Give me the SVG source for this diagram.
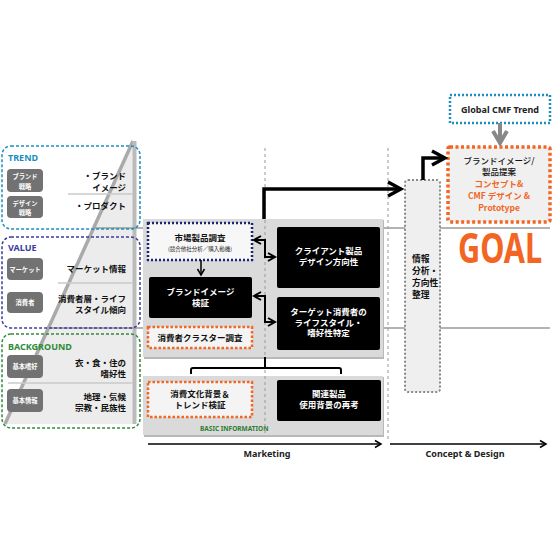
<svg xmlns="http://www.w3.org/2000/svg" width="560" height="560" viewBox="0 0 560 560">
<defs>
<style>
.jp{font-family:"Noto Sans CJK JP","Noto Sans",sans-serif;}
.lt{font-family:"Noto Sans","Liberation Sans","Noto Sans CJK JP",sans-serif;}
.sec{font-size:9px;font-weight:700;}
.pill{fill:#727272;}
.pt{fill:#fff;font-size:6.3px;font-weight:700;text-anchor:middle;}
.rt{fill:#111;font-size:8.5px;font-weight:700;text-anchor:end;}
.blk{fill:#000;}
.wt{fill:#fff;font-size:8.5px;font-weight:700;text-anchor:middle;}
.bt{fill:#111;font-size:8.5px;font-weight:700;text-anchor:middle;}
.at{fill:#111;font-size:8.8px;font-weight:700;}
.gt{font-size:8.5px;text-anchor:middle;}
.panel{fill:#dadada;}
.shadow{fill:#b8b8b8;}
.guide{stroke:#999;stroke-width:1;stroke-dasharray:3 3;fill:none;}
.hline{stroke:#9a9a9a;stroke-width:1.5;}
.sub{stroke:#cacaca;stroke-width:1.5;}
.dotor{fill:#f4f4f4;stroke:#f26522;stroke-width:2.5;stroke-dasharray:2.5 2;}
.thick{fill:none;stroke:#000;stroke-width:3.5;}
.mid{fill:none;stroke:#000;stroke-width:2;}
.thin{fill:none;stroke:#000;stroke-width:1.5;}
</style>
<marker id="chevL" markerUnits="userSpaceOnUse" viewBox="0 0 18 18" markerWidth="18" markerHeight="18" refX="15" refY="9" orient="auto">
<path d="M2,2 L15,9 L2,16" fill="none" stroke="#000" stroke-width="3.5" stroke-linejoin="miter"/>
</marker>
<marker id="chevM" markerUnits="userSpaceOnUse" viewBox="0 0 12 12" markerWidth="12" markerHeight="12" refX="9" refY="6" orient="auto-start-reverse">
<path d="M2,2 L9,6 L2,10" fill="none" stroke="#000" stroke-width="2"/>
</marker>
<marker id="chevS" markerUnits="userSpaceOnUse" viewBox="0 0 10 10" markerWidth="10" markerHeight="10" refX="8" refY="5" orient="auto">
<path d="M2,1.5 L8,5 L2,8.5" fill="none" stroke="#000" stroke-width="1.5"/>
</marker>
<marker id="chevG" markerUnits="userSpaceOnUse" viewBox="0 0 18 18" markerWidth="18" markerHeight="18" refX="15" refY="9" orient="auto">
<path d="M3,2 L15,9 L3,16" fill="none" stroke="#888" stroke-width="4"/>
</marker>
</defs>
<rect width="560" height="560" fill="#fff"/>

<g id="pyramid">
<polygon points="133,141 5,424 136,424" fill="#ececec"/>
<line x1="133" y1="141" x2="5" y2="424" stroke="#aaa" stroke-width="3.5"/>
<line x1="134.5" y1="141" x2="134.5" y2="424" stroke="#bbb" stroke-width="4"/>
<line class="sub" x1="68" y1="194" x2="133" y2="194"/>
<line class="sub" x1="58" y1="283" x2="133" y2="283"/>
<line class="sub" x1="8" y1="383" x2="133" y2="383"/>
</g>

<g id="section-lines">
<line class="hline" x1="95" y1="228" x2="550" y2="228"/>
<line class="hline" x1="50" y1="328" x2="550" y2="328"/>
</g>

<g id="trend" class="jp">
<rect x="2" y="146" width="138" height="83" rx="9" fill="none" stroke="#1a8fc0" stroke-width="1.5" stroke-dasharray="3 2"/>
<text class="lt sec" x="8" y="161" fill="#1a8fc0">TREND</text>
<rect class="pill" x="7" y="169" width="36" height="23" rx="4"/>
<text class="pt" x="25" y="179">ブランド</text>
<text class="pt" x="25" y="188.5">戦略</text>
<rect class="pill" x="7" y="196" width="36" height="22" rx="4"/>
<text class="pt" x="25" y="205.5">デザイン</text>
<text class="pt" x="25" y="214.5">戦略</text>
<text class="rt" x="126" y="179">・ブランド</text>
<text class="rt" x="126" y="190.5">イメージ</text>
<text class="rt" x="126" y="209">・プロダクト</text>
</g>

<g id="value" class="jp">
<rect x="2" y="237" width="138" height="91" rx="9" fill="none" stroke="#3b3b9e" stroke-width="1.5" stroke-dasharray="3 2"/>
<text class="lt sec" x="8" y="250.5" fill="#3b3b9e">VALUE</text>
<rect class="pill" x="7" y="258" width="36" height="22" rx="4"/>
<text class="pt" x="25" y="271.5">マーケット</text>
<rect class="pill" x="7" y="292" width="36" height="21" rx="4"/>
<text class="pt" x="25" y="304.5">消費者</text>
<text class="rt" x="126" y="272">マーケット情報</text>
<text class="rt" x="126" y="302">消費者層・ライフ</text>
<text class="rt" x="126" y="313">スタイル傾向</text>
</g>

<g id="background" class="jp">
<rect x="2" y="334" width="138" height="94" rx="9" fill="none" stroke="#2e8b3a" stroke-width="1.5" stroke-dasharray="3 2"/>
<text class="lt sec" x="8" y="349.5" fill="#2e8b3a">BACKGROUND</text>
<rect class="pill" x="7" y="355" width="36" height="23" rx="4"/>
<text class="pt" x="25" y="368.5">基本嗜好</text>
<rect class="pill" x="7" y="389" width="36" height="23" rx="4"/>
<text class="pt" x="25" y="402.5">基本情報</text>
<text class="rt" x="126" y="366">衣・食・住の</text>
<text class="rt" x="126" y="377">嗜好性</text>
<text class="rt" x="126" y="400">地理・気候</text>
<text class="rt" x="126" y="410.5">宗教・民族性</text>
</g>

<g id="panels">
<rect class="shadow" x="144" y="220" width="240" height="139"/>
<rect class="panel" x="143" y="219" width="240" height="138"/>
<rect class="shadow" x="144" y="377" width="240" height="60"/>
<rect class="panel" x="143" y="376" width="240" height="59"/>
<text class="lt" x="200" y="430.5" fill="#2e7d32" font-size="6.5" font-weight="700">BASIC INFORMATION</text>
</g>

<g id="guides">
<line class="guide" x1="265" y1="148" x2="265" y2="435"/>
<line class="guide" x1="388" y1="148" x2="388" y2="440"/>
</g>

<g id="market-research" class="jp">
<rect x="148" y="223" width="104" height="37" fill="#f7f7f7" stroke="#1f2270" stroke-width="2.5" stroke-dasharray="2 2"/>
<text class="bt" x="200" y="241">市場製品調査</text>
<text x="200" y="250.5" font-size="5.5" fill="#222" text-anchor="middle">(競合他社分析／購入動機)</text>
</g>

<g id="brand-image-check" class="jp">
<rect class="blk" x="149" y="277" width="103" height="41" rx="2"/>
<text class="wt" x="200.5" y="295">ブランドイメージ</text>
<text class="wt" x="200.5" y="306">検証</text>
</g>

<g id="cluster" class="jp">
<rect class="dotor" x="148" y="327" width="104" height="21"/>
<text class="bt" x="200" y="341">消費者クラスター調査</text>
</g>

<g id="client-direction" class="jp">
<rect class="blk" x="277" y="227" width="103" height="61" rx="2"/>
<text class="wt" x="328.5" y="254">クライアント製品</text>
<text class="wt" x="328.5" y="265">デザイン方向性</text>
</g>

<g id="target-lifestyle" class="jp">
<rect class="blk" x="277" y="297" width="103" height="53" rx="2"/>
<text class="wt" x="328.5" y="315">ターゲット消費者の</text>
<text class="wt" x="328.5" y="325.5">ライフスタイル・</text>
<text class="wt" x="328.5" y="336">嗜好性特定</text>
</g>

<g id="culture-trend" class="jp">
<rect class="dotor" x="148" y="382" width="104" height="35"/>
<text class="bt" x="200" y="397">消費文化背景＆</text>
<text class="bt" x="200" y="407.5">トレンド検証</text>
</g>

<g id="related-products" class="jp">
<rect class="blk" x="277" y="380" width="104" height="41" rx="2"/>
<text class="wt" x="329" y="397">関連製品</text>
<text class="wt" x="329" y="408">使用背景の再考</text>
</g>

<g id="analysis" class="jp">
<rect x="405" y="180" width="35" height="212" rx="3" fill="#efefef" stroke="#888" stroke-width="2" stroke-dasharray="2 2"/>
<text class="at" x="412" y="262">情報</text>
<text class="at" x="412" y="274">分析・</text>
<text class="at" x="412" y="286">方向性</text>
<text class="at" x="412" y="298">整理</text>
</g>

<g id="global-cmf" class="lt">
<rect x="450" y="95" width="100" height="28" fill="#fff" stroke="#1a8fc0" stroke-width="2.5" stroke-dasharray="2 2"/>
<text x="500" y="113" font-size="9" font-weight="700" fill="#222" text-anchor="middle">Global CMF Trend</text>
</g>

<g id="proposal" class="jp">
<rect x="448" y="147" width="102" height="75" rx="2" fill="#f0f0f0" stroke="#f26522" stroke-width="3.5" stroke-dasharray="3 2.5"/>
<text class="gt" x="499" y="163.5" font-weight="500" fill="#111">ブランドイメージ/</text>
<text class="gt" x="499" y="175" font-weight="500" fill="#111">製品提案</text>
<text class="gt" x="499" y="187" font-weight="700" fill="#f26522">コンセプト&amp;</text>
<text class="gt" x="499" y="199" font-weight="700" fill="#f26522">CMF デザイン &amp;</text>
<text class="gt" x="499" y="210.5" font-weight="700" fill="#f26522">Prototype</text>
</g>

<g id="goal">
<text class="lt" transform="translate(458,263) scale(0.73,1)" x="0" y="0" font-size="42" font-weight="700" fill="#f26522">GOAL</text>
</g>

<g id="connectors">
<path class="thick" d="M264,219 V189 H401" marker-end="url(#chevL)"/>
<path class="thick" d="M423,180 V158 H445" marker-end="url(#chevL)"/>
<path class="mid" d="M254,240 H265 V257 H275" marker-start="url(#chevM)" marker-end="url(#chevM)"/>
<path class="mid" d="M254,296 H265 V322 H275" marker-start="url(#chevM)" marker-end="url(#chevM)"/>
<path class="thin" d="M201,260 V275" marker-end="url(#chevS)"/>
<path class="mid" d="M191,374 V370 Q191,368 193,368 H339 Q341,368 341,370 V374 M265,368 V357"/>
<path d="M500,123 V143" fill="none" stroke="#888" stroke-width="4" marker-end="url(#chevG)"/>
<path class="thin" d="M148,444 H381" marker-end="url(#chevS)"/>
<path class="thin" d="M390,444 H546" marker-end="url(#chevS)"/>
</g>

<g id="axis-labels" class="lt">
<text x="267" y="456.5" font-size="9" font-weight="700" fill="#222" text-anchor="middle">Marketing</text>
<text x="465" y="456.5" font-size="9" font-weight="700" fill="#222" text-anchor="middle">Concept &amp; Design</text>
</g>
</svg>
